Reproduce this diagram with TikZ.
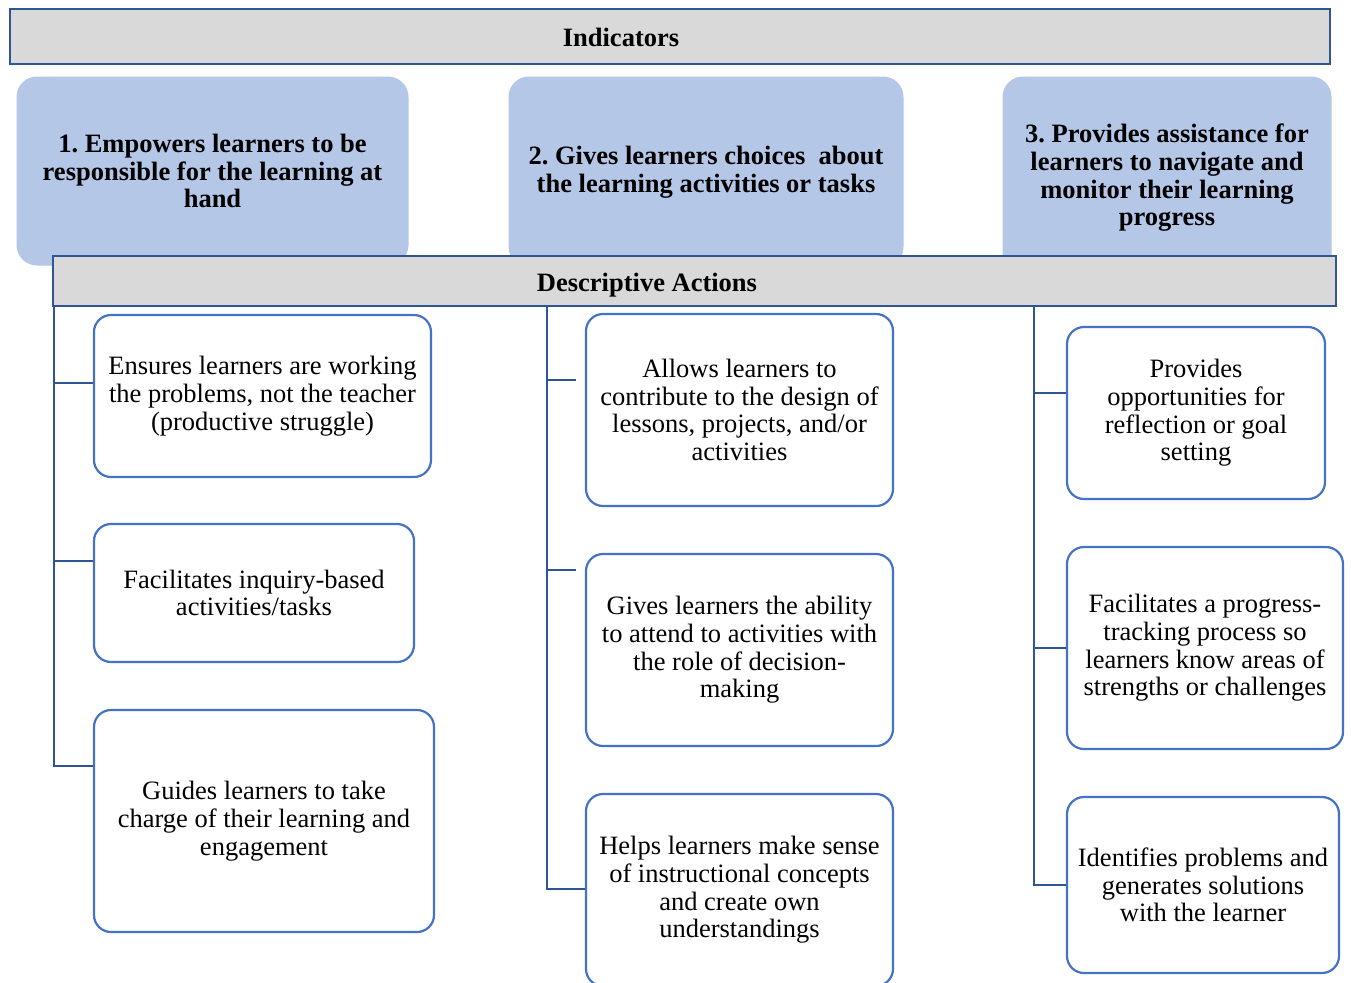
\documentclass[tikz,border=0pt]{standalone}
\usepackage{fontspec}
\setmainfont{Liberation Serif}
\frenchspacing
\definecolor{dkblue}{HTML}{2F5597}
\definecolor{mdblue}{HTML}{4472C4}
\definecolor{ltblue}{HTML}{B4C7E7}
\definecolor{hdgray}{HTML}{D9D9D9}
\begin{document}
\begin{tikzpicture}[x=1pt,y=-1pt,
  hdbar/.style={draw=dkblue, line width=2.2pt, fill=hdgray, inner sep=0pt},
  hdtext/.style={font=\fontsize{26.5}{27.7}\selectfont\bfseries, inner sep=0pt},
  indbox/.style={fill=ltblue, draw=ltblue, line width=1pt, rounded corners=20pt, align=center,
     font=\fontsize{26.5}{27.7}\selectfont\bfseries, inner sep=0pt},
  actbox/.style={fill=white, draw=mdblue, line width=2.2pt, rounded corners=17pt, align=center,
     font=\fontsize{26.5}{27.7}\selectfont, inner sep=0pt},
  conn/.style={draw=dkblue, line width=2.4pt}]
\useasboundingbox (0,0) rectangle (1351,982);
% header
\node[hdbar, minimum width=1320pt, minimum height=55pt] (ind) at (670,36.5) {};
\node[hdtext] (indt) at (621,37) {Indicators};
% indicator boxes
\node[indbox, minimum width=391pt, minimum height=188pt] (I1) at (212.5,171)
  {1. Empowers learners to be\\responsible for the learning at\\hand};
\node[indbox, minimum width=394pt, minimum height=190pt] (I2) at (706,172)
  {2. Gives learners choices\ \ about\\the learning activities or tasks};
\node[indbox, minimum width=328pt, minimum height=202pt] (I3) at (1167,178)
  {3. Provides assistance for\\learners to navigate and\\monitor their learning\\progress};
% descriptive actions bar
\node[hdbar, minimum width=1283pt, minimum height=50pt] (da) at (694.5,281) {};
\node[hdtext] (dat) at (647,285) {Descriptive Actions};
% action boxes
\node[actbox, minimum width=337pt, minimum height=162pt] (A1) at (262.5,396)
  {Ensures learners are working\\the problems, not the teacher\\(productive struggle)};
\node[actbox, minimum width=320pt, minimum height=138pt] (A2) at (254,593)
  {Facilitates inquiry-based\\activities/tasks};
\node[actbox, minimum width=340pt, minimum height=222pt] (A3) at (264,821)
  {Guides learners to take\\charge of their learning and\\engagement};
\node[actbox, minimum width=307pt, minimum height=192pt] (B1) at (739.5,410)
  {Allows learners to\\contribute to the design of\\lessons, projects, and/or\\activities};
\node[actbox, minimum width=307pt, minimum height=192pt] (B2) at (739.5,650)
  {Gives learners the ability\\to attend to activities with\\the role of decision-\\making};
\node[actbox, minimum width=307pt, minimum height=192pt] (B3) at (739.5,890)
  {Helps learners make sense\\of instructional concepts\\and create own\\understandings};
\node[actbox, minimum width=258pt, minimum height=172pt] (C1) at (1196,413)
  {Provides\\opportunities for\\reflection or goal\\setting};
\node[actbox, minimum width=276pt, minimum height=202pt] (C2) at (1205,648)
  {Facilitates a progress-\\tracking process so\\learners know areas of\\strengths or challenges};
\node[actbox, minimum width=272pt, minimum height=176pt] (C3) at (1203,885)
  {Identifies problems and\\generates solutions\\with the learner};
% spines
\coordinate (s1) at (54,306);
\coordinate (s2) at (547,306);
\coordinate (s3) at (1034,306);
\draw[conn] (s1) |- (A3.west |- 0,766);
\draw[conn] (s1 |- 0,383) -- (A1.west |- 0,383);
\draw[conn] (s1 |- 0,561) -- (A2.west |- 0,561);
\draw[conn] (s2) |- (B3.west |- 0,889);
\draw[conn] (s2 |- 0,380) -- ([xshift=-9pt]B1.west |- 0,380);
\draw[conn] (s2 |- 0,570) -- ([xshift=-9pt]B2.west |- 0,570);
\draw[conn] (s3) |- (C3.west |- 0,885);
\draw[conn] (s3 |- 0,393) -- (C1.west |- 0,393);
\draw[conn] (s3 |- 0,648) -- (C2.west |- 0,648);
\end{tikzpicture}
\end{document}
